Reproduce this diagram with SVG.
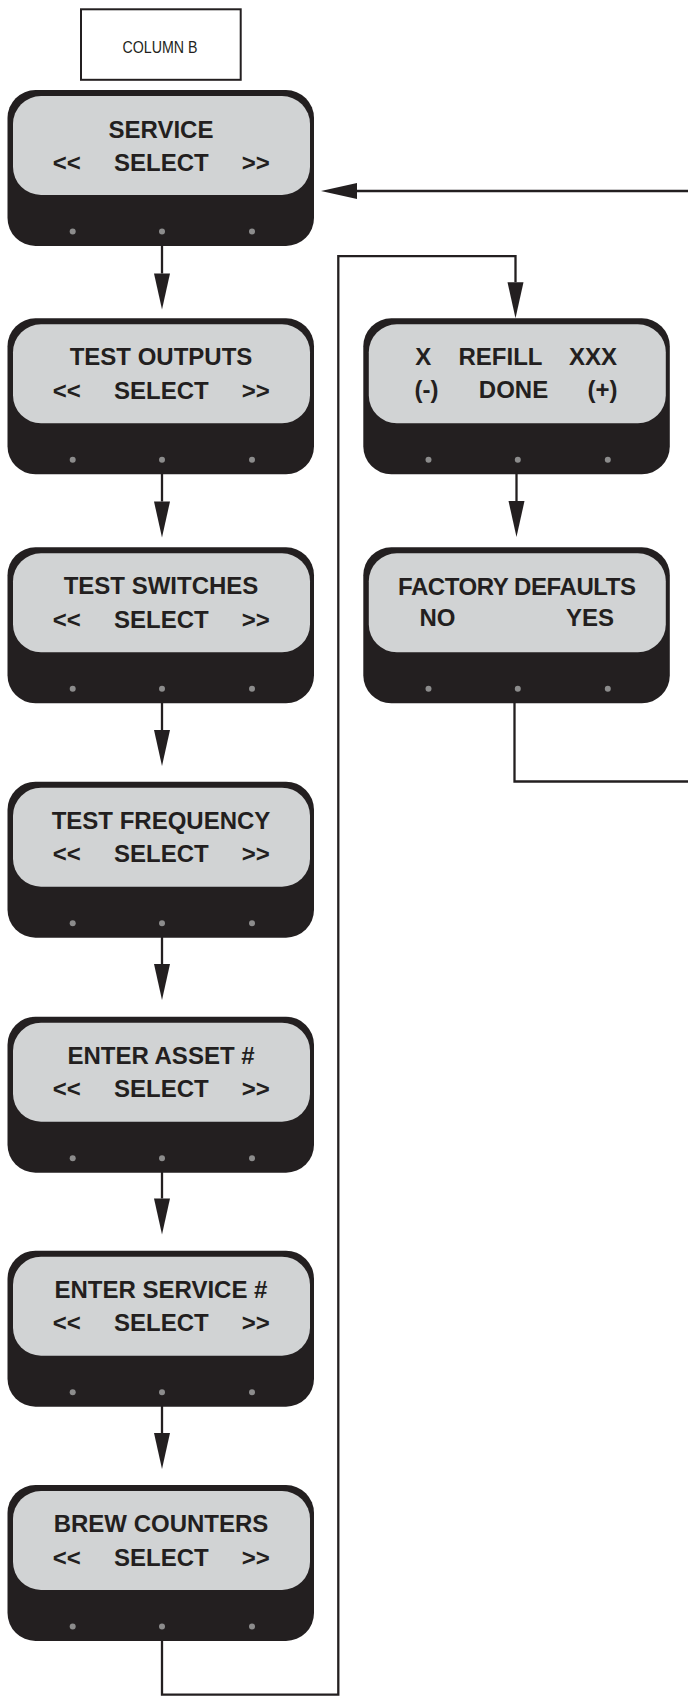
<svg xmlns="http://www.w3.org/2000/svg" width="688" height="1696" viewBox="0 0 688 1696">
  <style>
    .outer { fill: #231f20; }
    .panel { fill: #d1d3d4; }
    .dot { fill: #8c8c8c; }
    .t { font-family: "Liberation Sans", Arial, sans-serif; font-weight: bold; font-size: 24px; fill: #231f20; text-anchor: middle; }
    .lbl { font-family: "Liberation Sans Narrow", "Liberation Sans", Arial, sans-serif; font-size: 16px; fill: #231f20; text-anchor: middle; }
    .conn { fill: none; stroke: #231f20; stroke-width: 2.3; }
  </style>
  <defs>
    <marker id="arr" markerUnits="userSpaceOnUse" markerWidth="40" markerHeight="20" refX="0" refY="0" orient="auto" overflow="visible">
      <path d="M0,-8 L36,0 L0,8 z" fill="#231f20"/>
    </marker>
    <g id="shell">
      <rect class="outer" x="0" y="0" width="306.5" height="156" rx="28"/>
      <rect class="panel" x="5.5" y="6" width="297" height="99" rx="28"/>
      <circle class="dot" cx="65.2" cy="141.5" r="3"/>
      <circle class="dot" cx="154.5" cy="141.5" r="3"/>
      <circle class="dot" cx="244.5" cy="141.5" r="3"/>
    </g>
  </defs>

  <g id="column-b">
    <rect x="81" y="9.3" width="159.7" height="70.5" fill="#fff" stroke="#231f20" stroke-width="2"/>
    <text class="lbl" x="160" y="52.5" textLength="75" lengthAdjust="spacingAndGlyphs">COLUMN B</text>
  </g>

  <g id="connectors">
    <line class="conn" x1="162" y1="246" x2="162" y2="273.5" marker-end="url(#arr)"/>
    <line class="conn" x1="162" y1="474" x2="162" y2="501.5" marker-end="url(#arr)"/>
    <line class="conn" x1="162" y1="703" x2="162" y2="730" marker-end="url(#arr)"/>
    <line class="conn" x1="162" y1="937" x2="162" y2="964" marker-end="url(#arr)"/>
    <line class="conn" x1="162" y1="1172" x2="162" y2="1198.5" marker-end="url(#arr)"/>
    <line class="conn" x1="162" y1="1406" x2="162" y2="1433" marker-end="url(#arr)"/>
    <line class="conn" x1="516.5" y1="474" x2="516.5" y2="501" marker-end="url(#arr)"/>
    <polyline class="conn" points="162,1627 162,1694.6 338.3,1694.6 338.3,256.2 515.5,256.2 515.5,282.3" marker-end="url(#arr)"/>
    <polyline class="conn" points="514.5,703 514.5,781.5 688,781.5"/>
    <line class="conn" x1="688" y1="191" x2="357" y2="191" marker-end="url(#arr)"/>
  </g>

  <g id="service" transform="translate(7.5,90)">
    <use href="#shell"/>
    <text class="t" x="153.5" y="48">SERVICE</text>
    <text class="t" x="59.2" y="81">&lt;&lt;</text>
    <text class="t" x="153.8" y="81">SELECT</text>
    <text class="t" x="248.3" y="81">&gt;&gt;</text>
  </g>

  <g id="test-outputs" transform="translate(7.5,318.3)">
    <use href="#shell"/>
    <text class="t" x="153.5" y="47">TEST OUTPUTS</text>
    <text class="t" x="59.2" y="80.5">&lt;&lt;</text>
    <text class="t" x="153.8" y="80.5">SELECT</text>
    <text class="t" x="248.3" y="80.5">&gt;&gt;</text>
  </g>

  <g id="test-switches" transform="translate(7.5,547.3)">
    <use href="#shell"/>
    <text class="t" x="153.5" y="47">TEST SWITCHES</text>
    <text class="t" x="59.2" y="80.5">&lt;&lt;</text>
    <text class="t" x="153.8" y="80.5">SELECT</text>
    <text class="t" x="248.3" y="80.5">&gt;&gt;</text>
  </g>

  <g id="test-frequency" transform="translate(7.5,781.7)">
    <use href="#shell"/>
    <text class="t" x="153.5" y="47">TEST FREQUENCY</text>
    <text class="t" x="59.2" y="80.5">&lt;&lt;</text>
    <text class="t" x="153.8" y="80.5">SELECT</text>
    <text class="t" x="248.3" y="80.5">&gt;&gt;</text>
  </g>

  <g id="enter-asset" transform="translate(7.5,1016.7)">
    <use href="#shell"/>
    <text class="t" x="153.5" y="47">ENTER ASSET #</text>
    <text class="t" x="59.2" y="80.5">&lt;&lt;</text>
    <text class="t" x="153.8" y="80.5">SELECT</text>
    <text class="t" x="248.3" y="80.5">&gt;&gt;</text>
  </g>

  <g id="enter-service" transform="translate(7.5,1250.7)">
    <use href="#shell"/>
    <text class="t" x="153.5" y="47">ENTER SERVICE #</text>
    <text class="t" x="59.2" y="80.5">&lt;&lt;</text>
    <text class="t" x="153.8" y="80.5">SELECT</text>
    <text class="t" x="248.3" y="80.5">&gt;&gt;</text>
  </g>

  <g id="brew-counters" transform="translate(7.5,1485)">
    <use href="#shell"/>
    <text class="t" x="153.5" y="47">BREW COUNTERS</text>
    <text class="t" x="59.2" y="80.5">&lt;&lt;</text>
    <text class="t" x="153.8" y="80.5">SELECT</text>
    <text class="t" x="248.3" y="80.5">&gt;&gt;</text>
  </g>

  <g id="refill" transform="translate(363.3,318.3)">
    <use href="#shell"/>
    <text class="t" x="60" y="47">X</text>
    <text class="t" x="137.2" y="47">REFILL</text>
    <text class="t" x="229.7" y="47">XXX</text>
    <text class="t" x="63.2" y="80">(-)</text>
    <text class="t" x="150.2" y="80">DONE</text>
    <text class="t" x="239.2" y="80">(+)</text>
  </g>

  <g id="factory-defaults" transform="translate(363.3,547.3)">
    <use href="#shell"/>
    <text class="t" x="153.7" y="47.5" textLength="238">FACTORY DEFAULTS</text>
    <text class="t" x="74.2" y="78.5">NO</text>
    <text class="t" x="226.7" y="78.5">YES</text>
  </g>
</svg>
